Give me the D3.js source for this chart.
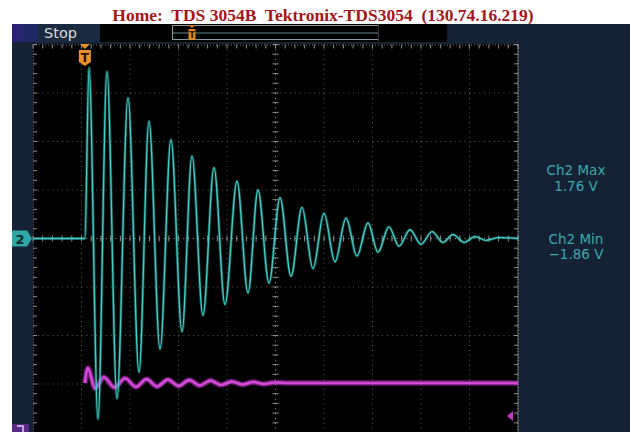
<!DOCTYPE html>
<html><head><meta charset="utf-8">
<script src="https://cdn.jsdelivr.net/npm/d3@7"></script>
<style>html,body{margin:0;padding:0;background:#fff;}svg{display:block;}</style>
</head><body>
<svg id="c" width="630" height="432"></svg>
<script>
// ---- data ----
const title = "Home:  TDS 3054B  Tektronix-TDS3054  (130.74.16.219)";
const runState = "Stop";
const ch2VoltsPerDiv = 0.5;
// Ch2 trace: time (divisions from left edge) and volts, read at the turning points
const ch2Time  = [0, 1.07, 1.155, 1.34, 1.526, 1.732, 1.959, 2.186, 2.392, 2.619, 2.845, 3.072, 3.278, 3.505, 3.732, 3.959, 4.206, 4.433, 4.639, 4.866, 5.093, 5.32, 5.546, 5.773, 6.0, 6.227, 6.454, 6.68, 6.907, 7.113, 7.34, 7.546, 7.773, 8.0, 8.227, 8.454, 8.66, 8.887, 9.113, 9.34, 9.6, 10];
const ch2Volts = [0, 0, 1.76, -1.86, 1.72, -1.65, 1.45, -1.38, 1.21, -1.14, 1.02, -0.96, 0.85, -0.79, 0.73, -0.68, 0.59, -0.56, 0.50, -0.46, 0.42, -0.39, 0.32, -0.31, 0.26, -0.24, 0.21, -0.18, 0.16, -0.14, 0.12, -0.08, 0.09, -0.06, 0.07, -0.04, 0.04, -0.04, 0.02, -0.02, 0.01, 0];
// Ch1 trace: time (divisions) and level (divisions from screen centre)
const ch1Time  = [1.07, 1.13, 1.28, 1.46, 1.68, 1.90, 2.12, 2.34, 2.56, 2.78, 3.00, 3.22, 3.44, 3.66, 3.88, 4.10, 4.32, 4.54, 4.76, 4.98, 5.3, 10];
const ch1Level = [-2.98, -2.67, -3.09, -2.86, -3.07, -2.88, -3.06, -2.90, -3.05, -2.91, -3.04, -2.92, -3.03, -2.93, -3.02, -2.95, -3.01, -2.96, -3.00, -2.97, -2.98, -2.98];
const measLabels = ["Ch2 Max", "Ch2 Min"];
const measValues = ["1.76 V", "\u22121.86 V"];
const xDivs = 10, yDivs = 8, minorPerDiv = 5;

// ---- drawing ----
const svg = d3.select("#c");
const x = d3.scaleLinear().domain([0, xDivs]).range([33, 518]);
const y = d3.scaleLinear().domain([-yDivs/2, yDivs/2]).range([432.5, 44.5]);

// frame panels
svg.append("rect").attr("x",0).attr("y",0).attr("width",630).attr("height",432).attr("fill","#ffffff");
svg.append("rect").attr("x",12).attr("y",24).attr("width",618).attr("height",408).attr("fill","#142234");
// top bar pieces
const barG = svg.append("g");
const grad = svg.append("defs").append("linearGradient").attr("id","pg");
grad.append("stop").attr("offset","0").attr("stop-color","#2a1f7a");
grad.append("stop").attr("offset","1").attr("stop-color","#1d2a5e");
barG.append("rect").attr("x",12).attr("y",24).attr("width",26).attr("height",18).attr("fill","url(#pg)");
barG.append("rect").attr("x",38).attr("y",24).attr("width",62).attr("height",18).attr("fill","#1a2b40");
barG.append("text").attr("x",44).attr("y",38).text(runState)
  .attr("font-family","DejaVu Sans, sans-serif").attr("font-size",14.5).attr("fill","#dcdcdc");
barG.append("rect").attr("x",100).attr("y",24).attr("width",347).attr("height",18).attr("fill","#000");
barG.append("rect").attr("x",172.5).attr("y",25.5).attr("width",206).attr("height",14).attr("fill","none").attr("stroke","#8a9a9a").attr("stroke-width",1);
barG.append("line").attr("x1",378.5).attr("x2",378.5).attr("y1",24).attr("y2",42).attr("stroke","#333").attr("stroke-width",1);
barG.append("line").attr("x1",173).attr("x2",378).attr("y1",33).attr("y2",33).attr("stroke","#5f8a86").attr("stroke-width",1);
// small trigger in record view
barG.append("path").attr("d","M188,25 L196,25 L192,28 Z").attr("fill","#d07a2a");
barG.append("rect").attr("x",188.5).attr("y",29).attr("width",7).attr("height",11).attr("rx",1).attr("fill","#e08a26");
barG.append("text").attr("x",192).attr("y",38).attr("text-anchor","middle").text("T")
  .attr("font-family","DejaVu Sans, sans-serif").attr("font-weight","bold").attr("font-size",9).attr("fill","#3a1a00");

// graticule
svg.append("rect").attr("x",33).attr("y",44).attr("width",485).attr("height",388).attr("fill","#000");
const grid = svg.append("g").attr("stroke","#6a6a6a").attr("stroke-width",1);
d3.range(1, xDivs).forEach(i => {
  grid.append("line").attr("x1",x(i)).attr("x2",x(i)).attr("y1",y(4)).attr("y2",y(-4))
    .attr("stroke-dasharray","1,3.85").attr("stroke", i===5 ? "#9a9a9a" : "#5a5a5a");
});
d3.range(-3, 4).forEach(j => {
  grid.append("line").attr("y1",y(j)).attr("y2",y(j)).attr("x1",x(0)).attr("x2",x(10))
    .attr("stroke-dasharray","1,3.85").attr("stroke", j===0 ? "#9a9a9a" : "#5a5a5a");
});
// minor ticks on centre lines and borders
const minorX = d3.range(0, xDivs*minorPerDiv+1).map(k => k/minorPerDiv);
const minorY = d3.range(-yDivs/2*minorPerDiv, yDivs/2*minorPerDiv+1).map(k => k/minorPerDiv);
minorX.forEach(t => {
  grid.append("line").attr("x1",x(t)).attr("x2",x(t)).attr("y1",y(0)-3).attr("y2",y(0)+3).attr("stroke","#8c8c8c");
  grid.append("line").attr("x1",x(t)).attr("x2",x(t)).attr("y1",y(4)).attr("y2",y(4)+4).attr("stroke","#8c8c8c");
});
minorY.forEach(t => {
  grid.append("line").attr("y1",y(t)).attr("y2",y(t)).attr("x1",x(5)-3).attr("x2",x(5)+3).attr("stroke","#8c8c8c");
  grid.append("line").attr("y1",y(t)).attr("y2",y(t)).attr("x1",x(0)).attr("x2",x(0)+4).attr("stroke","#8c8c8c");
  grid.append("line").attr("y1",y(t)).attr("y2",y(t)).attr("x1",x(10)-4).attr("x2",x(10)).attr("stroke","#8c8c8c");
});
grid.append("line").attr("x1",x(0)).attr("x2",x(10)).attr("y1",y(4)+0.5).attr("y2",y(4)+0.5).attr("stroke","#7a7a7a").attr("stroke-dasharray","1,2");
grid.append("line").attr("x1",x(0)+0.5).attr("x2",x(0)+0.5).attr("y1",y(4)).attr("y2",y(-4)).attr("stroke","#7a7a7a").attr("stroke-dasharray","1,2");
grid.append("line").attr("x1",x(10)).attr("x2",x(10)).attr("y1",y(4)).attr("y2",y(-4)).attr("stroke","#b0b0b0").attr("stroke-dasharray","2,1");

// traces
const line = d3.line().curve(d3.curveMonotoneX);
const ch1Pts = ch1Time.map((t,i) => [x(t), y(ch1Level[i])]);
svg.append("path").attr("d", line(ch1Pts)).attr("fill","none").attr("stroke","#9a2aa2").attr("stroke-width",5.5).attr("stroke-opacity",0.7);
svg.append("path").attr("d", line(ch1Pts)).attr("fill","none").attr("stroke","#d24ad6").attr("stroke-width",2.6);

const ch2Pts = ch2Time.map((t,i) => [x(t), y(ch2Volts[i]/ch2VoltsPerDiv)]);
svg.append("path").attr("d", line(ch2Pts)).attr("fill","none").attr("stroke","#2aa8a2").attr("stroke-width",3).attr("stroke-opacity",0.45);
svg.append("path").attr("d", line(ch2Pts)).attr("fill","none").attr("stroke","#48cdc6").attr("stroke-width",1.3);

// trigger marker on screen
const tx = x(ch2Time[1]);
svg.append("path").attr("d",`M${tx-5},44 L${tx+5},44 L${tx},49 Z`).attr("fill","#e8902a");
svg.append("path").attr("d",`M${tx-6},50 L${tx+6},50 L${tx+6},62 L${tx},66 L${tx-6},62 Z`).attr("fill","#e8902a");
svg.append("text").attr("x",tx).attr("y",62).attr("text-anchor","middle").text("T")
  .attr("font-family","DejaVu Sans, sans-serif").attr("font-weight","bold").attr("font-size",12).attr("fill","#2a1200");

// channel 2 ground marker
const gy = y(0);
svg.append("path").attr("d",`M12,${gy-8} L27,${gy-8} L32,${gy} L27,${gy+8} L12,${gy+8} Z`).attr("fill","#2fa7a7");
svg.append("text").attr("x",20).attr("y",gy+5).attr("text-anchor","middle").text("2")
  .attr("font-family","DejaVu Sans, sans-serif").attr("font-weight","bold").attr("font-size",13).attr("fill","#0c2a30");
// channel 1 marker (bottom, cut off by the picture edge)
svg.append("rect").attr("x",12).attr("y",424).attr("width",17).attr("height",10).attr("fill","#5a2a86");
svg.append("path").attr("d","M17,426 L23,426 L23,432").attr("fill","none").attr("stroke","#e0d0f0").attr("stroke-width",1.5);
// ch1 small arrow at right
svg.append("path").attr("d",`M507,416 L513,411 L513,421 Z`).attr("fill","#c03ac8");

// measurements
const mg = svg.append("g").attr("font-family","DejaVu Sans, sans-serif").attr("font-size",13.5).attr("fill","#3aa9ae").attr("text-anchor","middle");
[[175,191],[244,259]].forEach((p,i) => {
  mg.append("text").attr("x",576).attr("y",p[0]).text(measLabels[i]);
  mg.append("text").attr("x",576).attr("y",p[1]).text(measValues[i]);
});

// title
svg.append("text").attr("x",323).attr("y",21).attr("text-anchor","middle").text(title)
  .attr("font-family","Liberation Serif, serif").attr("font-weight","bold").attr("font-size",17.5)
  .attr("fill","#a3161a").style("white-space","pre").attr("xml:space","preserve");
</script>
</body></html>
